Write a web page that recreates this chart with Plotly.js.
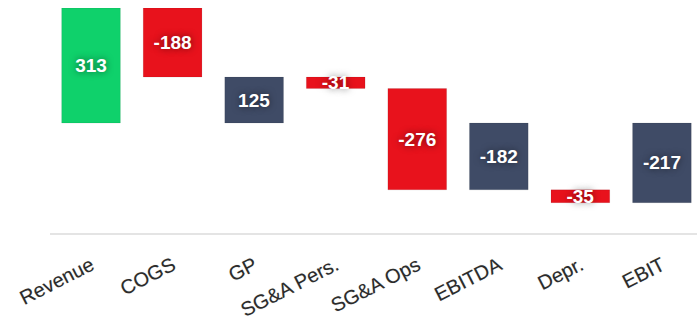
<!DOCTYPE html>
<html>
<head>
<meta charset="utf-8">
<script src="https://cdn.plot.ly/plotly-3.0.1.min.js"></script>
<style>html,body{margin:0;padding:0;background:#fff;}#chart{width:697px;height:322px;}</style>
</head>
<body>
<div id="chart"></div>
<script>
const categories = ["Revenue", "COGS", "GP", "SG&A Pers.", "SG&A Ops", "EBITDA", "Depr.", "EBIT"];
const values = [313, -188, 125, -31, -276, -182, -35, -217];
const measures = ["relative", "relative", "total", "relative", "relative", "total", "relative", "total"];

const trace = {
  type: "waterfall",
  x: categories,
  y: values,
  measure: measures,
  text: values.map(v => String(v)),
  textposition: "inside",
  insidetextanchor: "middle",
  constraintext: "none",
  textfont: {family: "Liberation Sans, Arial, sans-serif", size: 19, color: "#ffffff", weight: "bold", shadow: "0px 0px 7px rgba(0,0,0,0.55)"},
  width: 0.72,
  increasing: {marker: {color: "#0fd16b", line: {color: "rgba(0,0,0,0.08)", width: 1}}},
  decreasing: {marker: {color: "#e8121c", line: {color: "rgba(0,0,0,0.08)", width: 1}}},
  totals: {marker: {color: "#3f4b66", line: {color: "rgba(0,0,0,0.08)", width: 1}}},
  connector: {visible: false},
  hoverinfo: "none"
};

const layout = {
  width: 697, height: 322,
  margin: {l: 50, r: 0, t: 8, b: 89},
  paper_bgcolor: "#ffffff", plot_bgcolor: "#ffffff",
  showlegend: false,
  uniformtext: {mode: "show", minsize: 19},
  xaxis: {
    type: "category",
    range: [-0.503, 7.43],
    showline: true, linecolor: "#e4e4e4", linewidth: 2,
    showgrid: false, zeroline: false,
    ticks: "", tickangle: -27,
    ticklabelstandoff: 11,
    tickfont: {family: "Liberation Sans, Arial, sans-serif", size: 20, color: "#2b2b2b", shadow: "0px 0px 1px rgba(0,0,0,0.25)"}
  },
  yaxis: {
    range: [-299.4, 313],
    showgrid: false, zeroline: false, showticklabels: false, showline: false, ticks: ""
  }
};

Plotly.newPlot("chart", [trace], layout, {displayModeBar: false, staticPlot: true});
</script>
</body>
</html>
